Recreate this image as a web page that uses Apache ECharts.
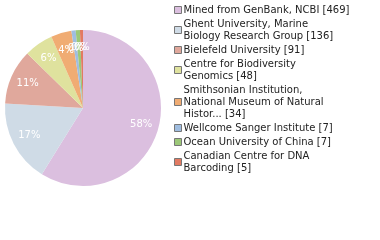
<!DOCTYPE html>
<html><head><meta charset="utf-8">
<script src="https://cdn.jsdelivr.net/npm/echarts@6/dist/echarts.min.js"></script>
<style>html,body{margin:0;padding:0;background:#fff}#c{width:380px;height:240px}</style>
</head><body><div id="c"></div>
<script>
var categories = [
  "Mined from GenBank, NCBI",
  "Ghent University, Marine\nBiology Research Group",
  "Bielefeld University",
  "Centre for Biodiversity\nGenomics",
  "Smithsonian Institution,\nNational Museum of Natural\nHistor...",
  "Wellcome Sanger Institute",
  "Ocean University of China",
  "Canadian Centre for DNA\nBarcoding"
];
var values = [469, 136, 91, 48, 34, 7, 7, 5];
var colors = ['#dbbfdf','#cfdbe6','#e0a89c','#dfe29e','#f0ac73','#9fbde0','#9cc878','#e27a62'];

var data = categories.map(function(n,i){return {name:n, value:values[i]};});
var chart = echarts.init(document.getElementById('c'), null, {renderer:'canvas'});
chart.setOption({
  animation:false,
  color: colors,
  legend:{
    orient:'vertical', left:174, top:4, padding:0, itemWidth:7, itemHeight:7, itemGap:2, icon:'rect',
    itemStyle:{borderColor:'#777', borderWidth:1},
    textStyle:{fontFamily:'DejaVu Sans', fontSize:10, lineHeight:12, color:'#222', padding:[0,0,0,-3]},
    formatter:function(name){var i=categories.indexOf(name);return name+' ['+values[i]+']';},
    data: categories, selectedMode:false
  },
  series:[
    {type:'pie', center:[83,108], radius:[0,78], startAngle:90, clockwise:true,
     data:data, label:{show:false}, labelLine:{show:false}, silent:true,
     itemStyle:{borderWidth:0}},
    {type:'pie', center:[83,108], radius:[37,78], startAngle:90, clockwise:true,
     data:data, silent:true, labelLine:{show:false}, labelLayout:{hideOverlap:false},
     itemStyle:{color:'rgba(0,0,0,0)', borderWidth:0},
     label:{show:true, position:'inside', color:'#fff', fontFamily:'DejaVu Sans', fontSize:10,
       formatter:function(p){return Math.floor(p.percent)+'%';}}}
  ]
});
</script></body></html>
